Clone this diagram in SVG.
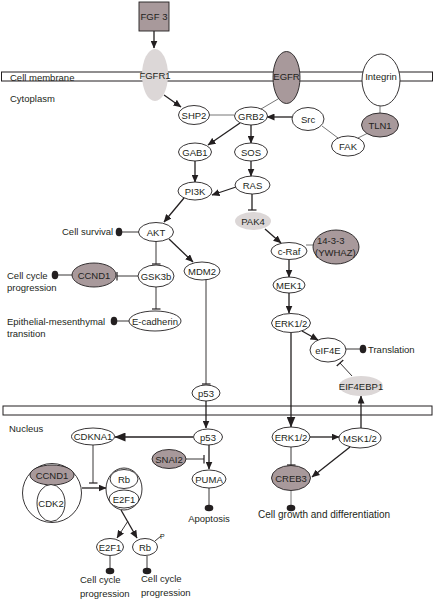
<svg xmlns="http://www.w3.org/2000/svg" width="434" height="600" viewBox="0 0 434 600">
<style>
text{font-family:"Liberation Sans",Arial,sans-serif;font-size:9.5px;fill:#231f20}
.c{text-anchor:middle}
.n{fill:#fff;stroke:#231f20;stroke-width:0.9}
.b{fill:#a8999b;stroke:#231f20;stroke-width:0.9}
.g{fill:#dcd7d7;stroke:none}
.mem{fill:#fff;stroke:#231f20;stroke-width:1}
.l{stroke:#231f20;stroke-width:1.3;fill:none}
.t{stroke:#231f20;stroke-width:0.9;fill:none}
.gr{stroke:#777;stroke-width:1;fill:none}
.a{marker-end:url(#arr)}
.A{marker-end:url(#big)}
.T{marker-end:url(#tbar)}
.d{marker-end:url(#dot)}
</style>
<defs>
<marker id="arr" markerUnits="userSpaceOnUse" markerWidth="8" markerHeight="7" refX="7.5" refY="3.5" orient="auto"><path d="M0,0 L8,3.5 L0,7 z" fill="#231f20"/></marker>
<marker id="big" markerUnits="userSpaceOnUse" markerWidth="11" markerHeight="9" refX="10.5" refY="4.5" orient="auto"><path d="M0,0 L11,4.5 L0,9 z" fill="#231f20"/></marker>
<marker id="tbar" markerUnits="userSpaceOnUse" markerWidth="2" markerHeight="9" refX="1" refY="4.5" orient="auto"><path d="M1,0 V9" stroke="#231f20" stroke-width="1.2"/></marker>
<marker id="dot" markerUnits="userSpaceOnUse" markerWidth="8" markerHeight="10" refX="4" refY="5" orient="auto"><ellipse cx="4" cy="5" rx="3.3" ry="4.3" fill="#231f20"/></marker>
</defs>

<g id="membranes">
<rect class="mem" x="1.5" y="72" width="431" height="9"/>
<rect class="mem" x="3" y="406" width="429" height="9"/>
<text x="10" y="81">Cell membrane</text>
<text x="10" y="102">Cytoplasm</text>
<text x="9" y="432">Nucleus</text>
</g>

<g id="connectors">
<line class="l a" x1="154" y1="31" x2="154" y2="48"/>
<line class="l a" x1="164" y1="95" x2="181" y2="107"/>
<line class="gr" x1="209" y1="115" x2="234" y2="115"/>
<line class="gr" x1="278" y1="99" x2="261" y2="109"/>
<line class="l a" x1="292" y1="117" x2="267" y2="117"/>
<line class="gr" x1="322" y1="126" x2="338" y2="138"/>
<line class="gr" x1="358" y1="138" x2="368" y2="133"/>
<line class="gr" x1="380" y1="106" x2="380" y2="113"/>
<line class="l a" x1="240" y1="123" x2="208" y2="145"/>
<line class="l a" x1="251" y1="125" x2="251" y2="143"/>
<line class="l a" x1="251" y1="161" x2="251" y2="176"/>
<line class="l a" x1="195" y1="161" x2="195" y2="182"/>
<line class="l a" x1="236" y1="187" x2="212" y2="195"/>
<line class="l T" x1="252" y1="194" x2="252" y2="210"/>
<line class="l a" x1="184" y1="198" x2="164" y2="222"/>
<line class="t d" x1="139" y1="232" x2="119" y2="232"/>
<line class="l a" x1="169" y1="239" x2="193" y2="262"/>
<line class="t T" x1="156" y1="241" x2="156" y2="264"/>
<line class="t T" x1="138" y1="276" x2="117" y2="276"/>
<line class="t d" x1="72" y1="275" x2="55" y2="275"/>
<line class="t T" x1="156" y1="287" x2="156" y2="309"/>
<line class="t d" x1="129" y1="321" x2="114" y2="321"/>
<line class="t T" x1="206" y1="279" x2="206" y2="384"/>
<line class="l a" x1="206" y1="401" x2="206" y2="428"/>
<line class="l A" x1="193" y1="437" x2="115" y2="437"/>
<line class="l a" x1="265" y1="229" x2="281" y2="243"/>
<line class="gr" x1="306" y1="245" x2="313" y2="245"/>
<line class="l a" x1="289" y1="260" x2="289" y2="277"/>
<line class="l a" x1="289" y1="293" x2="289" y2="313"/>
<line class="l a" x1="302" y1="331" x2="318" y2="340"/>
<line class="t d" x1="346" y1="349" x2="363" y2="349"/>
<line class="t T" x1="352" y1="376" x2="340" y2="363"/>
<line class="l A" x1="291" y1="333" x2="291" y2="427"/>
<line class="l a" x1="310" y1="437" x2="339" y2="437"/>
<line class="l a" x1="361" y1="428" x2="361" y2="396"/>
<line class="l a" x1="350" y1="447" x2="312" y2="477"/>
<line class="t T" x1="291" y1="447" x2="291" y2="465"/>
<line class="gr d" x1="291" y1="491" x2="291" y2="508"/>
<line class="t T" x1="93" y1="445" x2="93" y2="483"/>
<line class="l a" x1="82" y1="488" x2="106" y2="488"/>
<line class="l a" x1="121" y1="510" x2="137" y2="538"/>
<line class="t a" x1="128" y1="521" x2="117" y2="538"/>
<line class="t d" x1="110" y1="556" x2="110" y2="571"/>
<line class="t d" x1="147" y1="556" x2="147" y2="571"/>
<line class="t" x1="155" y1="541" x2="161" y2="536"/>
<line class="t T" x1="186" y1="459" x2="204" y2="459"/>
<line class="l a" x1="209" y1="445" x2="209" y2="469"/>
<line class="t d" x1="209" y1="488" x2="209" y2="508"/>
</g>

<g id="FGF3"><rect class="b" x="139" y="2" width="30" height="29"/><text class="c" x="154" y="20">FGF 3</text></g>
<g id="FGFR1"><ellipse class="g" cx="155" cy="75" rx="13" ry="26"/><text class="c" x="155" y="79">FGFR1</text></g>
<g id="EGFR"><ellipse class="b" cx="286.5" cy="77.5" rx="13.5" ry="26"/><text class="c" x="286.5" y="80">EGFR</text></g>
<g id="Integrin"><ellipse class="n" cx="381" cy="80" rx="19" ry="26"/><text class="c" x="381" y="80">Integrin</text></g>
<g id="TLN1"><ellipse class="b" cx="380" cy="125" rx="18.5" ry="12"/><text class="c" x="380" y="128.5">TLN1</text></g>
<g id="Src"><ellipse class="n" cx="308" cy="119" rx="16" ry="11.5"/><text class="c" x="308" y="122.5">Src</text></g>
<g id="FAK"><ellipse class="n" cx="348" cy="146" rx="16.5" ry="10"/><text class="c" x="348" y="149.5">FAK</text></g>
<g id="GRB2"><ellipse class="n" cx="251" cy="116" rx="16.5" ry="9"/><text class="c" x="251" y="119.5">GRB2</text></g>
<g id="SHP2"><ellipse class="n" cx="194" cy="115" rx="15.5" ry="9.5"/><text class="c" x="194" y="118.5">SHP2</text></g>
<g id="GAB1"><ellipse class="n" cx="195" cy="152" rx="16.5" ry="9"/><text class="c" x="195" y="155.5">GAB1</text></g>
<g id="SOS"><ellipse class="n" cx="251" cy="152" rx="16.5" ry="9"/><text class="c" x="251" y="155.5">SOS</text></g>
<g id="RAS"><ellipse class="n" cx="252.5" cy="185" rx="17.5" ry="9"/><text class="c" x="252.5" y="188.5">RAS</text></g>
<g id="PI3K"><ellipse class="n" cx="195" cy="191" rx="17" ry="9"/><text class="c" x="195" y="194.5">PI3K</text></g>
<g id="PAK4"><ellipse class="g" cx="253" cy="221" rx="18" ry="9"/><text class="c" x="253" y="224.5">PAK4</text></g>
<g id="AKT"><ellipse class="n" cx="156" cy="232" rx="17.5" ry="9.5"/><text class="c" x="156" y="235.5">AKT</text></g>
<g id="CellSurvival"><text x="62" y="235">Cell survival</text></g>
<g id="MDM2"><ellipse class="n" cx="202" cy="271" rx="18" ry="9"/><text class="c" x="202" y="274.5">MDM2</text></g>
<g id="GSK3b"><ellipse class="n" cx="156" cy="276" rx="18" ry="11"/><text class="c" x="156" y="279.5">GSK3b</text></g>
<g id="CCND1a"><ellipse class="b" cx="94" cy="275" rx="22" ry="12"/><text class="c" x="94" y="278.5">CCND1</text></g>
<g id="CellCycle1"><text x="7" y="279">Cell cycle</text><text x="7" y="291">progression</text></g>
<g id="Ecadherin"><ellipse class="n" cx="155" cy="321" rx="26" ry="10"/><text class="c" x="155" y="324.5">E-cadherin</text></g>
<g id="EMT"><text x="7" y="325">Epithelial-mesenthymal</text><text x="7" y="337">transition</text></g>
<g id="cRaf"><ellipse class="n" cx="289" cy="251" rx="18" ry="8.5"/><text class="c" x="289" y="254.5">c-Raf</text></g>
<g id="YWHAZ"><ellipse class="b" cx="336" cy="247" rx="23" ry="17"/><text x="317" y="244">14-3-3</text><text x="315" y="256">(YWHAZ)</text></g>
<g id="MEK1"><ellipse class="n" cx="289" cy="285" rx="16" ry="8"/><text class="c" x="289" y="288.5">MEK1</text></g>
<g id="ERK12a"><ellipse class="n" cx="291" cy="323" rx="19.5" ry="9.5"/><text class="c" x="291" y="326.5">ERK1/2</text></g>
<g id="eIF4E"><ellipse class="n" cx="328" cy="350" rx="18" ry="12"/><text class="c" x="328" y="353.5">eIF4E</text></g>
<g id="Translation"><text x="368" y="352.5">Translation</text></g>
<g id="EIF4EBP1"><ellipse class="g" cx="361" cy="386" rx="22" ry="10"/><text class="c" x="361" y="389.5">EIF4EBP1</text></g>
<g id="p53a"><ellipse class="n" cx="206" cy="393" rx="14" ry="8"/><text class="c" x="206" y="396.5">p53</text></g>
<g id="p53b"><ellipse class="n" cx="208" cy="437" rx="14.5" ry="8"/><text class="c" x="208" y="440.5">p53</text></g>
<g id="CDKNA1"><ellipse class="n" cx="93" cy="436.5" rx="21.5" ry="8.5"/><text class="c" x="93" y="440">CDKNA1</text></g>
<g id="ERK12b"><ellipse class="n" cx="291" cy="437" rx="19" ry="10"/><text class="c" x="291" y="440.5">ERK1/2</text></g>
<g id="MSK12"><ellipse class="n" cx="360" cy="438" rx="21" ry="10"/><text class="c" x="360" y="441.5">MSK1/2</text></g>
<g id="CREB3"><ellipse class="b" cx="291" cy="478" rx="19.5" ry="12.5"/><text class="c" x="291" y="481.5">CREB3</text></g>
<g id="CellGrowth"><text x="258" y="518" style="font-size:10px">Cell growth and differentiation</text></g>
<g id="SNAI2"><ellipse class="b" cx="169" cy="459" rx="17" ry="9.5"/><text class="c" x="169" y="462.5">SNAI2</text></g>
<g id="PUMA"><ellipse class="n" cx="209" cy="479" rx="17" ry="9"/><text class="c" x="209" y="482.5">PUMA</text></g>
<g id="Apoptosis"><text class="c" x="209" y="522">Apoptosis</text></g>
<g id="CCND1CDK2"><circle class="n" cx="52" cy="493" r="29.5"/><ellipse class="b" cx="52" cy="475" rx="22" ry="10"/><text class="c" x="52" y="478.5">CCND1</text><ellipse class="n" cx="51" cy="503" rx="14" ry="18.5"/><text class="c" x="51" y="506.5">CDK2</text></g>
<g id="RbE2F1"><ellipse class="n" cx="124" cy="489" rx="18" ry="21"/><ellipse class="n" cx="124" cy="479" rx="14" ry="9.5"/><text class="c" x="124" y="482.5">Rb</text><ellipse class="n" cx="124" cy="499" rx="15" ry="9"/><text class="c" x="124" y="502.5">E2F1</text></g>
<g id="E2F1"><ellipse class="n" cx="110" cy="547" rx="13.5" ry="8.5"/><text class="c" x="110" y="550.5">E2F1</text></g>
<g id="Rb"><ellipse class="n" cx="145" cy="547" rx="12.5" ry="8.5"/><text class="c" x="145" y="550.5">Rb</text><text x="160" y="539" style="font-size:7px">P</text></g>
<g id="CellCycle2"><text x="80" y="583">Cell cycle</text><text x="80" y="597">progression</text></g>
<g id="CellCycle3"><text x="141" y="582">Cell cycle</text><text x="141" y="596">progression</text></g>
</svg>
